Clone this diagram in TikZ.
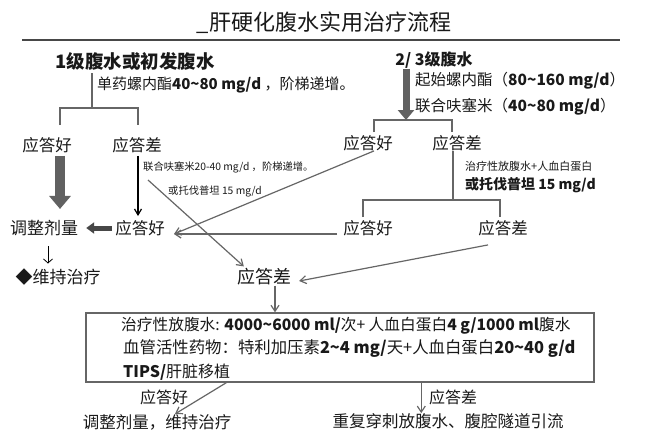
\documentclass[tikz,border=0pt]{standalone}
\usepackage{fontspec}
\setmainfont{Noto Sans CJK SC}
\usetikzlibrary{arrows.meta}
\newcommand{\tld}{\textasciitilde}
\newcommand{\fs}[1]{\fontsize{#1}{#1}\selectfont}

\begin{document}
\begin{tikzpicture}[x=1pt, y=-1pt,
  lbl/.style={inner sep=0pt, text=black!90},
  conn/.style={draw=black!60, line width=1.2pt, -{Straight Barb[length=6pt,width=8pt]}},
  brk/.style={draw=black!60, line width=1.2pt},
  fat/.style={draw=black!62}]
\useasboundingbox[fill=white] (0,0) rectangle (660,447);

% title
\node[lbl, font=\fs{22}] (title) at (324,23) {\_肝硬化腹水实用治疗流程};
\draw[black!72, line width=2pt] (22,40) -- (620,40);

% left branch
\node[lbl, font=\fs{18.5}\bfseries] (g1) at (135,61) {1级腹水或初发腹水};
\node[lbl, font=\fs{15}, anchor=west] (d1) at (97,85) {单药螺内酯\textbf{40\tld80 mg/d} ，阶梯递增。};
\foreach \n/\x/\y/\txt in {good1/47/145/应答好, bad1/137/145/应答差, good2/140/228/应答好, good3/368/143/应答好, bad3/457/143/应答差, good4/368/228/应答好, bad4/503/228/应答差}{
    \node[lbl, font=\fs{16.5}] (\n) at (\x,\y) {\txt};
}
\node[lbl, font=\fs{17}] (adj) at (44,228) {调整剂量};
\node[lbl, font=\fs{17}] (keep) at (58,277) {◆维持治疗};
\node[lbl, font=\fs{10.3}, anchor=west] (f1) at (143,167) {联合呋塞米20-40 mg/d ，阶梯递增。};
\node[lbl, font=\fs{10.3}, anchor=west] (f2) at (168,191) {或托伐普坦 15 mg/d};

% right branch
\node[lbl, font=\fs{16}\bfseries] (g23) at (434,60) {2/ 3级腹水};
\node[lbl, font=\fs{15.5}, anchor=west] (s1) at (415,81) {起始螺内酯（\textbf{80\tld160 mg/d}）};
\node[lbl, font=\fs{15.5}, anchor=west] (s2) at (415,107) {联合呋塞米（\textbf{40\tld80 mg/d}）};
\node[lbl, font=\fs{11}, anchor=west] (f3) at (465,166) {治疗性放腹水+人血白蛋白};
\node[lbl, font=\fs{14}\bfseries, anchor=west] (f4) at (465,185) {或托伐普坦 15 mg/d};
\node[lbl, font=\fs{18}] (bad5) at (264,277) {应答差};

% box and outcome
\node[draw=black!60, line width=1.4pt, minimum width=508pt, minimum height=69pt, inner sep=0pt] (box) at (340,347.5) {};
\node[lbl, font=\fs{15.7}, anchor=west] (b1) at (121,326) {治疗性放腹水: \textbf{4000\tld6000 ml/}次+ 人血白蛋白\textbf{4 g/1000 ml}腹水};
\node[lbl, font=\fs{16.4}, anchor=west] (b2) at (123,349) {血管活性药物：特利加压素\textbf{2\tld4 mg/}天+人血白蛋白\textbf{20\tld40 g/d}};
\node[lbl, font=\fs{16}, anchor=west] (b3) at (123,372) {\textbf{TIPS/}肝脏移植};
\node[lbl, font=\fs{16}] (lab5) at (164,397) {应答好};
\node[lbl, font=\fs{16.5}] (fin1) at (157,422) {调整剂量，维持治疗};
\node[lbl, font=\fs{16}] (lab6) at (453,397) {应答差};
\node[lbl, font=\fs{16.5}] (fin2) at (448,421) {重复穿刺放腹水、腹腔隧道引流};

% junctions
\coordinate (j1) at (92,108);
\coordinate (t1a) at (60,125);
\coordinate (t1b) at (138,125);
\coordinate (j3) at (406,120);
\coordinate (t3a) at (374,132);
\coordinate (t3b) at (452,132);
\coordinate (j4) at (453,200);
\coordinate (t4a) at (363,217);
\coordinate (t4b) at (500,217);
\coordinate (in2) at (174,234);

% tree lines
\draw[brk] (g1.south -| j1) ++(0,3) -- (j1);
\draw[brk] (t1a) -- (t1a |- j1) -- (t1b |- j1) -- (t1b);
\draw[brk] (t3a) -- (t3a |- j3) -- (t3b |- j3) -- (t3b);
\draw[brk] (bad3.south -| j4) -- (j4);
\draw[brk] (t4a) -- (t4a |- j4) -- (t4b |- j4) -- (t4b);

% fat arrows
\draw[fat, line width=10pt, -{Triangle[length=13pt,width=21pt]}, shorten <=3pt, shorten >=11pt] (good1.south -| t1a) -- (adj.north -| t1a);
\draw[fat, line width=7pt, -{Triangle[length=10pt,width=16pt]}] (g23.south -| j3) -- (j3);
\draw[fat, draw=black!72, line width=5pt, -{Triangle[length=8pt,width=11pt]}, shorten <=3pt, shorten >=8pt] (good2.west) -- (adj.east);

% thin arrows
\draw[black, line width=1.2pt, -{Straight Barb[length=6pt,width=7pt]}, shorten <=3pt, shorten >=4pt] (bad1.south -| t1b) -- (good2.north -| t1b);
\draw[black, line width=0.8pt, -{Straight Barb[length=4pt,width=9pt]}, shorten <=10pt, shorten >=5pt] ([xshift=4pt]adj.south) -- ([xshift=4pt]adj.south |- keep.north);
\draw[conn] ([xshift=6pt]good3.south) -- (in2);
\draw[conn] ([xshift=-6pt]good4.west |- in2) -- (in2);
\draw[conn] ([shift={(-15pt,-9pt)}]bad4.south) -- ([shift={(8pt,-4pt)}]bad5.east);
\draw[conn] ([shift={(5pt,-13pt)}]f1.west) -- ([shift={(7pt,2pt)}]bad5.north west);
\draw[conn] ([xshift=11pt]bad5.south) -- ([xshift=11pt]bad5.south |- box.north);
\draw[conn] ([xshift=141pt]box.south west) -- ([xshift=18pt]fin1.north);
\draw[conn] ([xshift=336pt]box.south west) -- ([xshift=336pt]box.south west |- fin2.north);
\end{tikzpicture}
\end{document}
